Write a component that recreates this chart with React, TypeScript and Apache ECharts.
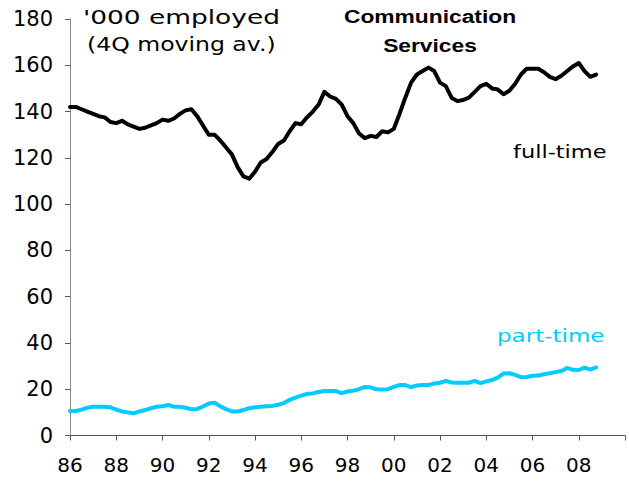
import React, { useEffect, useRef } from "react";
import * as echarts from "echarts";

const startYear = 1986;
const quartersPerYear = 4;

const fullTime = [
  142, 142, 141, 140, 139, 138, 137.5, 135.5, 135, 136, 134.5, 133.5, 132.5, 133, 134, 135,
  136.5, 136, 137, 139, 140.5, 141, 138, 134, 130, 130, 127.5, 124.5, 121.5, 116, 112, 111,
  114, 118, 119.5, 122.5, 126, 127.5, 131.5, 135, 134.5, 137.5, 140, 143, 148.5, 146.5, 145.5, 143,
  138, 135, 130.5, 128.5, 129.5, 129, 131.5, 131, 132.5, 139, 146, 152.5, 156, 157.5, 159, 157.5,
  152.5, 151, 146, 144.5, 145, 146, 148.5, 151, 152, 150, 149.5, 147.5, 149, 152, 156, 158.5,
  158.5, 158.5, 157, 155, 154, 155.5, 157.5, 159.5, 161, 157.5, 155, 156,
];

const partTime = [
  10.6, 10.6, 11.2, 12, 12.4, 12.4, 12.4, 12.2, 11.2, 10.4, 10, 9.6, 10.4, 11, 11.8, 12.4,
  12.6, 13.2, 12.4, 12.4, 12, 11.3, 11.5, 12.5, 13.8, 14.2, 12.6, 11.4, 10.4, 10.4, 11, 11.8,
  12.2, 12.4, 12.6, 12.8, 13.3, 14, 15.4, 16.4, 17.2, 18, 18.2, 18.8, 19.2, 19.2, 19.2, 18.3,
  19, 19.4, 20, 21, 20.8, 20, 19.9, 20, 21, 21.8, 21.8, 20.9, 21.6, 21.8, 21.8, 22.5,
  22.8, 23.6, 22.9, 22.8, 22.8, 22.8, 23.6, 22.6, 23.4, 24, 25, 26.8, 26.9, 26.2, 25.2, 25.3,
  25.8, 25.9, 26.5, 26.9, 27.4, 27.9, 29.2, 28.4, 28.3, 29.3, 28.5, 29.4,
];

const xMin = 1986;
const xMax = 2010;
const xStep = 2;
const yMin = 0;
const yMax = 180;
const yStep = 20;

const titleLines = ["Communication", "Services"];
const unitLines = ["'000 employed", "(4Q moving av.)"];
const fullLabel = "full-time";
const partLabel = "part-time";

const toPairs = (vals: number[]) =>
  vals.map((v, i) => [startYear + i / quartersPerYear, v]);

export default function App() {
  const ref = useRef<HTMLDivElement>(null);

  useEffect(() => {
    if (!ref.current) return;
    document.body.style.margin = "0";
    const chart = echarts.init(ref.current, undefined, { renderer: "svg" });
    const font = "'DejaVu Sans', Verdana, sans-serif";
    chart.setOption({
      animation: false,
      backgroundColor: "#ffffff",
      grid: { left: 70, right: 4, top: 19, bottom: 45.5 },
      xAxis: {
        type: "value",
        min: xMin,
        max: xMax,
        interval: xStep,
        axisLine: { show: true, lineStyle: { color: "#555", width: 1 } },
        axisTick: { show: true, length: 5, lineStyle: { color: "#555" } },
        splitLine: { show: false },
        axisLabel: {
          color: "#000",
          fontFamily: font,
          fontSize: 20,
          margin: 19,
          formatter: (v: number) =>
            v >= xMax ? "" : String(v % 100).padStart(2, "0"),
        },
      },
      yAxis: {
        type: "value",
        min: yMin,
        max: yMax,
        interval: yStep,
        axisLine: { show: true, lineStyle: { color: "#888", width: 1 } },
        axisTick: { show: true, length: 5, lineStyle: { color: "#555" } },
        splitLine: { show: false },
        axisLabel: {
          color: "#000",
          fontFamily: font,
          fontSize: 21,
          margin: 17,
        },
      },
      series: [
        {
          type: "line",
          name: fullLabel,
          data: toPairs(fullTime),
          showSymbol: false,
          lineStyle: { color: "#000000", width: 4, join: "round", cap: "round" },
          itemStyle: { color: "#000000" },
        },
        {
          type: "line",
          name: partLabel,
          data: toPairs(partTime),
          showSymbol: false,
          lineStyle: { color: "#00CCFF", width: 4, join: "round", cap: "round" },
          itemStyle: { color: "#00CCFF" },
        },
      ],
      graphic: [
        {
          type: "text",
          x: 83,
          y: 27,
          scaleX: 1.39,
          style: {
            text: unitLines[0],
            fontFamily: font,
            fontSize: 19,
            fill: "#000",
            textAlign: "left",
            textVerticalAlign: "bottom",
          },
        },
        {
          type: "text",
          x: 87,
          y: 54,
          scaleX: 1.24,
          style: {
            text: unitLines[1],
            fontFamily: font,
            fontSize: 19,
            fill: "#000",
            textAlign: "left",
            textVerticalAlign: "bottom",
          },
        },
        {
          type: "text",
          x: 430,
          y: 26,
          scaleX: 1.2,
          style: {
            text: titleLines[0],
            fontFamily: "'Liberation Sans', Arial, sans-serif",
            fontWeight: "bold",
            fontSize: 19,
            fill: "#000",
            textAlign: "center",
            textVerticalAlign: "bottom",
          },
        },
        {
          type: "text",
          x: 430,
          y: 55,
          scaleX: 1.2,
          style: {
            text: titleLines[1],
            fontFamily: "'Liberation Sans', Arial, sans-serif",
            fontWeight: "bold",
            fontSize: 19,
            fill: "#000",
            textAlign: "center",
            textVerticalAlign: "bottom",
          },
        },
        {
          type: "text",
          x: 513,
          y: 161,
          scaleX: 1.25,
          style: {
            text: fullLabel,
            fontFamily: font,
            fontSize: 18,
            fill: "#000",
            textAlign: "left",
            textVerticalAlign: "bottom",
          },
        },
        {
          type: "text",
          x: 497,
          y: 345,
          scaleX: 1.28,
          style: {
            text: partLabel,
            fontFamily: font,
            fontSize: 18,
            fill: "#00CCFF",
            textAlign: "left",
            textVerticalAlign: "bottom",
          },
        },
      ],
    });
    return () => chart.dispose();
  }, []);

  return (
    <div
      ref={ref}
      style={{ position: "absolute", left: 0, top: 0, width: 629, height: 481 }}
    />
  );
}
